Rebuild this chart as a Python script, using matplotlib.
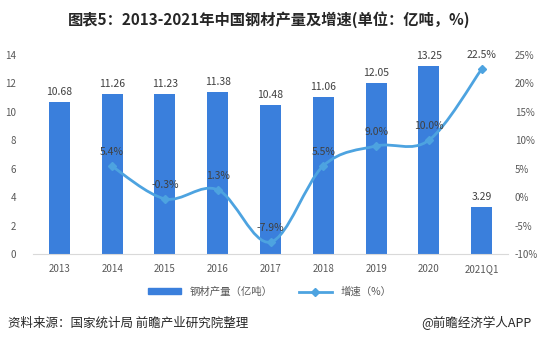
import numpy as np
import matplotlib.pyplot as plt
from matplotlib.path import Path
from matplotlib.patches import PathPatch
from matplotlib.lines import Line2D
from matplotlib.patches import Patch

plt.rcParams['font.family'] = ['Noto Sans CJK SC', 'DejaVu Sans']

categories = ['2013', '2014', '2015', '2016', '2017', '2018', '2019', '2020', '2021Q1']
output = [10.68, 11.26, 11.23, 11.38, 10.48, 11.06, 12.05, 13.25, 3.29]
growth_idx = [1, 2, 3, 4, 5, 6, 7, 8]
growth = [5.4, -0.3, 1.3, -7.9, 5.5, 9.0, 10.0, 22.5]

bar_color = '#3a7fdc'
line_color = '#4da3e0'
tick_color = '#595959'

fig = plt.figure(figsize=(5.39, 3.44), dpi=100)
ax = fig.add_axes([33 / 539, 1 - 254 / 344, 475 / 539, 199 / 344])
x = np.arange(len(categories))
bars = ax.bar(x, output, width=0.4, color=bar_color, zorder=2)
for xi, v in zip(x, output):
    ax.text(xi, v + 0.35, f'{v:.2f}', ha='center', va='bottom', fontsize=7.5, color='#404040')

ax.set_xlim(-0.5, len(categories) - 0.5)
ax.set_ylim(0, 14)
ax.set_yticks(range(0, 15, 2))
ax.set_xticks(x)
ax.set_xticklabels(categories)
ax.tick_params(axis='both', length=0, labelsize=7, colors=tick_color)
ax.tick_params(axis='y', pad=12)
ax.tick_params(axis='x', pad=7)
for s in ['top', 'right', 'left']:
    ax.spines[s].set_visible(False)
ax.spines['bottom'].set_color('#d9d9d9')

ax2 = ax.twinx()
ax2.set_ylim(-10, 25)
ax2.set_yticks(range(-10, 26, 5))
ax2.set_yticklabels([f'{t}%' for t in range(-10, 26, 5)])
ax2.tick_params(axis='y', length=0, labelsize=7, colors=tick_color, pad=5)
for s in ['top', 'right', 'left', 'bottom']:
    ax2.spines[s].set_visible(False)

# smooth curve through growth points (Catmull-Rom -> cubic Bezier)
px = np.array(growth_idx, dtype=float)
py = np.array(growth, dtype=float)
verts = [(px[0], py[0])]
codes = [Path.MOVETO]
n = len(px)
for i in range(n - 1):
    p0 = (px[max(i - 1, 0)], py[max(i - 1, 0)])
    p1 = (px[i], py[i])
    p2 = (px[i + 1], py[i + 1])
    p3 = (px[min(i + 2, n - 1)], py[min(i + 2, n - 1)])
    c1 = (p1[0] + (p2[0] - p0[0]) / 6, p1[1] + (p2[1] - p0[1]) / 6)
    c2 = (p2[0] - (p3[0] - p1[0]) / 6, p2[1] - (p3[1] - p1[1]) / 6)
    verts += [c1, c2, p2]
    codes += [Path.CURVE4] * 3
ax2.add_patch(PathPatch(Path(verts, codes), facecolor='none', edgecolor=line_color, lw=2, zorder=3))
ax2.plot(px, py, linestyle='none', marker='D', markersize=4.5, color=line_color, zorder=4)
for xi, v in zip(px, py):
    ax2.text(xi, v + 1.6, f'{v:.1f}%', ha='center', va='bottom', fontsize=7.5, color='#404040', zorder=5)

handles = [Patch(color=bar_color), Line2D([0], [0], color=line_color, lw=2, marker='D', markersize=4)]
fig.legend(handles, ['钢材产量（亿吨）', '增速（%）'], loc='center', bbox_to_anchor=(0.5, 1 - 292 / 344),
           ncol=2, frameon=False, fontsize=7.5, handlelength=3.2, handleheight=0.5, columnspacing=2.5,
           labelcolor=tick_color)

fig.text(0.5, 1 - 20 / 344, '图表5：2013-2021年中国钢材产量及增速(单位：亿吨，%)', ha='center', va='center',
         fontsize=11, fontweight='bold', color='#262626')
fig.text(8 / 539, 1 - 323 / 344, '资料来源：国家统计局 前瞻产业研究院整理', ha='left', va='center',
         fontsize=9, color='#262626')
fig.text(531 / 539, 1 - 323 / 344, '@前瞻经济学人APP', ha='right', va='center', fontsize=9, color='#262626')

fig.savefig('out.png', dpi=100)
